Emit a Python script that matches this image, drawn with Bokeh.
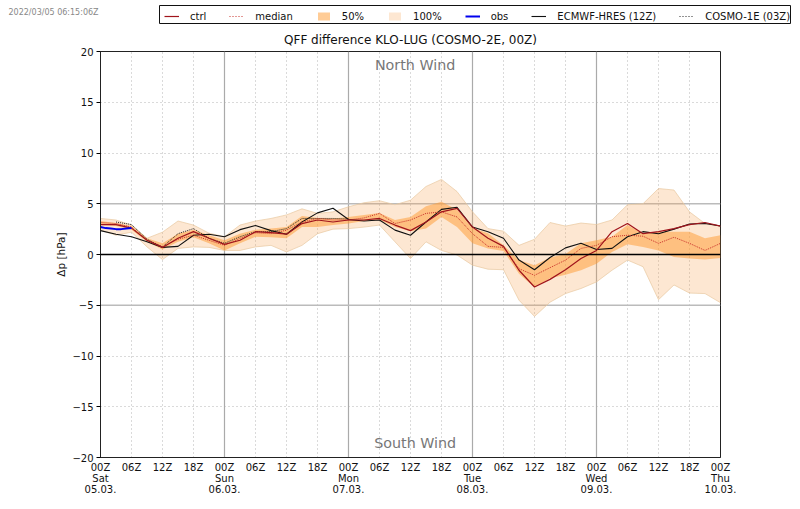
from bokeh.plotting import figure
from bokeh.layouts import column
from bokeh.models import Span, Label, Legend, LegendItem, FixedTicker
from bokeh.embed import file_html
from bokeh.resources import INLINE

hours = list(range(0, 121, 3))
ens_max = [3.55,3.4,2.9,1.6,2.2,3.3,2.9,2.1,1.75,2.9,3.3,3.55,3.9,4.5,4.05,4.2,4.7,5.1,5.3,4.9,5.35,6.7,7.4,6.2,4.2,2.55,2.3,0.9,1.5,3.15,2.8,3.1,2.95,3.4,4.9,5.0,6.5,6.35,4.2,3.05,2.8]
ens_min = [2.4,1.9,2.2,0.75,-0.5,0.6,0.75,0.7,0.4,0.4,0.75,0.9,0.25,0.9,2.05,2.5,2.55,2.7,2.9,1.25,-0.4,1.25,0.4,-0.05,-1.05,-1.45,-1.5,-4.5,-6.1,-4.7,-3.85,-3.35,-2.7,-1.55,-0.55,-1.2,-4.45,-3.0,-3.8,-3.85,-4.75]
q75 = [3.3,3.1,2.8,1.6,1.1,2.05,2.45,1.9,1.4,2.05,2.45,2.55,2.7,3.8,3.6,3.55,3.7,3.9,4.1,3.4,3.7,4.75,5.2,4.4,2.6,2.1,0.9,-0.55,-1.05,-0.3,0.05,1.1,1.4,1.75,2.9,2.05,2.25,2.25,2.25,1.6,1.9]
q25 = [2.9,2.8,2.45,1.25,0.5,1.25,1.7,1.1,0.4,1.1,1.75,1.7,1.6,2.7,2.7,2.9,3.05,3.3,3.4,2.7,2.3,2.55,3.7,2.7,1.1,0.6,0.35,-1.9,-3.25,-2.35,-2.0,-1.55,-0.9,0.25,1.0,0.75,0.4,-0.25,-0.4,-0.5,-0.35]
ctrl = [2.95,2.95,2.6,1.4,0.7,1.6,2.25,1.6,1.0,1.4,2.25,2.15,2.0,3.05,3.4,3.2,3.4,3.4,3.55,2.9,2.35,3.2,4.2,4.55,2.7,1.6,0.8,-1.55,-3.2,-2.45,-1.5,-0.4,0.4,2.25,3.05,2.05,2.25,2.55,2.95,3.15,2.8]
median = [3.15,3.05,2.7,1.4,0.75,1.5,1.9,1.4,0.9,1.6,2.15,2.05,2.4,3.2,3.55,3.4,3.4,3.6,4.05,3.05,3.4,4.05,4.2,3.7,2.05,0.8,0.7,-1.4,-2.05,-1.3,-0.55,0.6,0.9,1.75,1.9,1.8,1.1,1.7,1.1,0.4,1.1]
hres = [2.35,2.0,1.75,1.25,0.7,0.8,1.9,2.0,1.75,2.45,2.85,2.35,2.0,3.2,4.1,4.55,3.45,3.3,3.4,2.4,1.9,3.2,4.45,4.65,2.7,2.25,1.6,-0.55,-1.5,-0.3,0.65,1.1,0.5,0.6,1.75,2.25,2.05,2.5,3.0,3.05,2.8]
c1e_hours = list(range(3, 49, 3))
c1e = [3.2,2.95,1.5,0.75,2.05,2.55,1.6,1.1,1.75,2.25,2.25,2.55,3.55,3.55,3.55,3.5]
obs_hours = [0,1,2,3,4,5,6]
obs = [2.7,2.6,2.55,2.5,2.5,2.55,2.6]

x_ticks = list(range(0, 121, 6))
hour_labels = ["00Z","06Z","12Z","18Z"]
days = ["Sat","Sun","Mon","Tue","Wed","Thu"]
dates = ["05.03.","06.03.","07.03.","08.03.","09.03.","10.03."]
y_ticks = [-20,-15,-10,-5,0,5,10,15,20]

x_over = {}
for t in x_ticks:
    lab = hour_labels[(t // 6) % 4]
    if t % 24 == 0:
        lab += "\n" + days[t // 24] + "\n" + dates[t // 24]
    x_over[t] = lab
y_over = {v: str(v).replace("-", "\u2212") for v in y_ticks}

FONT = "DejaVu Sans"
CTRL_C, MED_C, HRES_C, OBS_C = "#a0141c", "#c8302a", "#111111", "#0000ee"
F100, A100, F50, A50 = "#f9a04b", 0.25, "#ff9a2e", 0.5

p = figure(output_backend="svg", toolbar_location=None, frame_width=620, frame_height=406,
           x_range=(0, 120), y_range=(-20, 20), min_border_left=100, min_border_right=76,
           min_border_top=25, min_border_bottom=48,
           title="QFF difference KLO-LUG (COSMO-2E, 00Z)")
p.frame_align = False
p.title.align = "center"
p.title.text_font = FONT
p.title.text_font_size = "12px"
p.title.text_font_style = "normal"
p.title.text_color = "#111111"
p.title.standoff = 9

for ax in (p.xaxis[0], p.yaxis[0]):
    ax.major_label_text_font = FONT
    ax.major_label_text_font_size = "10px"
    ax.major_label_text_color = "#111111"
    ax.minor_tick_line_color = None
    ax.axis_line_color = "#222222"
p.xaxis[0].ticker = FixedTicker(ticks=x_ticks)
p.xaxis[0].major_label_overrides = x_over
p.xaxis[0].major_label_text_line_height = 1.0
p.xaxis[0].major_tick_out = 0
p.xaxis[0].major_tick_in = 0
p.xaxis[0].major_label_standoff = 4
p.yaxis[0].ticker = FixedTicker(ticks=y_ticks)
p.yaxis[0].major_label_overrides = y_over
p.yaxis[0].major_tick_out = 4
p.yaxis[0].major_tick_in = 0
p.yaxis[0].major_label_standoff = 3
p.yaxis[0].axis_label = "\u0394p [hPa]"
p.yaxis[0].axis_label_text_font = FONT
p.yaxis[0].axis_label_text_font_size = "10.5px"
p.yaxis[0].axis_label_text_font_style = "normal"
p.yaxis[0].axis_label_text_color = "#111111"
p.yaxis[0].axis_label_standoff = 2
p.outline_line_color = "#222222"
p.outline_line_width = 1

p.xgrid[0].ticker = FixedTicker(ticks=[t for t in x_ticks if t % 24])
p.ygrid[0].ticker = FixedTicker(ticks=[-15,-10,10,15])
for g in (p.xgrid[0], p.ygrid[0]):
    g.grid_line_color = "#b5b5b5"
    g.grid_line_dash = [1, 3]
    g.grid_line_width = 1

for d in range(24, 120, 24):
    p.add_layout(Span(location=d, dimension="height", line_color="#aaaaaa", line_width=1.2, level="underlay"))
for v in (-5, 5):
    p.add_layout(Span(location=v, dimension="width", line_color="#bbbbbb", line_width=1.4, level="underlay"))

p.varea(hours, ens_min, ens_max, fill_color=F100, fill_alpha=A100)
p.line(hours, ens_max, line_color="#e8c8a0", line_width=0.7)
p.line(hours, ens_min, line_color="#e8c8a0", line_width=0.7)
p.varea(hours, q25, q75, fill_color=F50, fill_alpha=A50)
p.add_layout(Span(location=0, dimension="width", line_color="#000000", line_width=1.5))
p.line(hours, hres, line_color=HRES_C, line_width=1.1)
p.line(c1e_hours, c1e, line_color=HRES_C, line_width=0.9, line_dash=[1, 1])
p.line(hours, median, line_color=MED_C, line_width=1, line_dash=[1, 1])
p.line(hours, ctrl, line_color=CTRL_C, line_width=1.2)
p.line(obs_hours, obs, line_color=OBS_C, line_width=2)

for txt, yy in (("North Wind", 18.7), ("South Wind", -18.6)):
    p.add_layout(Label(x=60.9, y=yy, text=txt, text_align="center", text_baseline="middle",
                       text_font=FONT, text_font_size="14.3px", text_color="#777777"))

# Header strip: its frame fills it, so the legend and time stamp are not clipped.
strip = figure(output_backend="svg", toolbar_location=None, width=800, height=26,
               x_range=(0, 800), y_range=(26, 0), x_axis_location=None, y_axis_location=None,
               min_border=0, min_border_left=0, min_border_right=0, min_border_top=0, min_border_bottom=0)
strip.frame_align = False
strip.grid.visible = False
strip.outline_line_color = None
strip.quad(left=[159], right=[790], top=[5], bottom=[23], fill_color="white",
           line_color="#111111", line_width=1)
# Legend keys: their points lie outside the strip's range and only lend the legend its styles.
key_x, key_y, key_y2 = [-20, -10], [-20, -20], [-10, -10]
s_ctrl = strip.line(key_x, key_y, line_color=CTRL_C, line_width=1.2)
s_med = strip.line(key_x, key_y, line_color=MED_C, line_width=1, line_dash=[1, 2])
s_50 = strip.varea(key_x, key_y, key_y2, fill_color=F50, fill_alpha=A50)
s_100 = strip.varea(key_x, key_y, key_y2, fill_color=F100, fill_alpha=A100)
s_obs = strip.line(key_x, key_y, line_color=OBS_C, line_width=2)
s_hres = strip.line(key_x, key_y, line_color=HRES_C, line_width=1.1)
s_c1e = strip.line(key_x, key_y, line_color=HRES_C, line_width=0.9, line_dash=[1, 2])

legend = Legend(items=[
    LegendItem(label="ctrl", renderers=[s_ctrl]),
    LegendItem(label="median", renderers=[s_med]),
    LegendItem(label="50%", renderers=[s_50]),
    LegendItem(label="100%", renderers=[s_100]),
    LegendItem(label="obs", renderers=[s_obs]),
    LegendItem(label="ECMWF-HRES (12Z)", renderers=[s_hres]),
    LegendItem(label="COSMO-1E (03Z)", renderers=[s_c1e]),
], orientation="horizontal", location=(164, 4), margin=0, padding=2,
   spacing=23, glyph_width=15, glyph_height=10, label_standoff=11,
   label_height=12, label_width=0, label_text_font=FONT, label_text_font_size="10px",
   label_text_color="#111111", border_line_color=None,
   background_fill_alpha=0, label_text_line_height=1.0)
strip.add_layout(legend, "center")
strip.add_layout(Label(x=8, y=12, text="2022/03/05 06:15:06Z", text_baseline="middle",
                       text_font=FONT, text_font_size="8px", text_color="#888888"))

page = column(strip, p, spacing=0)
open("out.html", "w").write(file_html(page, INLINE))
